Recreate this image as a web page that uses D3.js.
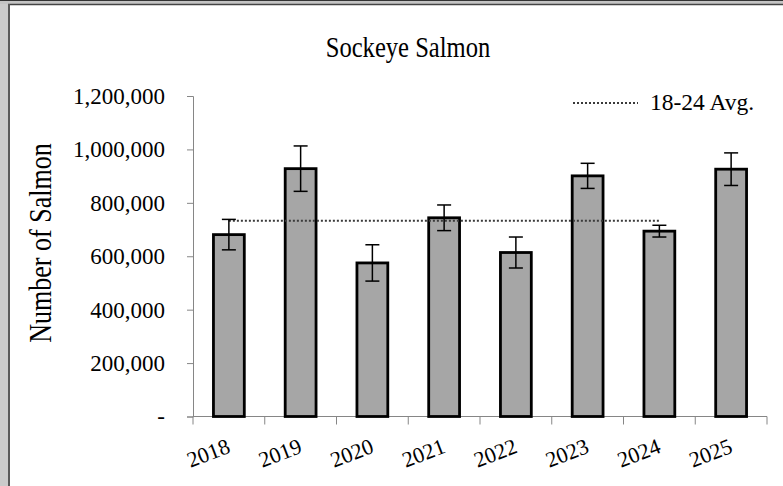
<!DOCTYPE html>
<html>
<head>
<meta charset="utf-8">
<script src="https://cdn.jsdelivr.net/npm/d3@7"></script>
<style>
  body { margin: 0; background: #fff; }
  svg { display: block; }
  text { font-family: "Liberation Serif", "Times New Roman", serif; }
</style>
</head>
<body>
<svg id="chart" width="783" height="486"></svg>
<script>
// values
const years = ['2018', '2019', '2020', '2021', '2022', '2023', '2024', '2025'];
const salmon = [681000, 928000, 575000, 744000, 614000, 901000, 694000, 926000];
const errors = [57000, 85000, 68000, 48000, 58000, 47000, 22000, 61000];
const avgValue = 733000;
const avgSpan = ['2018', '2024'];
const yTicks = [0, 200000, 400000, 600000, 800000, 1000000, 1200000];

const svg = d3.select('#chart');
const serif = '"Liberation Serif", "Times New Roman", serif';

// window frame on the left / top
svg.append('rect').attr('x', 0).attr('y', 0).attr('width', 9).attr('height', 486).attr('fill', '#cbcbcb');
svg.append('rect').attr('x', 0).attr('y', 0).attr('width', 783).attr('height', 4).attr('fill', '#c4c4c4');
svg.append('line').attr('x1', 0).attr('x2', 783).attr('y1', 0.5).attr('y2', 0.5).attr('stroke', '#333');
svg.append('line').attr('x1', 8).attr('x2', 783).attr('y1', 4.5).attr('y2', 4.5).attr('stroke', '#444').attr('stroke-width', 1.5);
svg.append('line').attr('x1', 9).attr('x2', 9).attr('y1', 4).attr('y2', 486).attr('stroke', '#5a5a5a').attr('stroke-width', 2);

const plotLeft = 193, plotRight = 767, plotTop = 96, plotBottom = 416.5;

const x = d3.scaleBand().domain(years).range([plotLeft, plotRight]).paddingInner(0.57).paddingOuter(0.285);
const y = d3.scaleLinear().domain([0, 1200000]).range([plotBottom, plotTop]);

// title (Times in the original is a bit taller and narrower)
svg.append('text').attr('transform', 'translate(408,57) scale(0.82,1)').attr('text-anchor', 'middle')
  .attr('font-family', serif).attr('font-size', 30).attr('fill', '#000').text('Sockeye Salmon');

// y axis
const yAxis = d3.axisLeft(y).tickValues(yTicks).tickSize(6).tickPadding(22)
  .tickFormat(d => d === 0 ? '-' : d3.format(',')(d));
const gy = svg.append('g').attr('transform', `translate(${plotLeft},0)`).call(yAxis)
  .attr('font-family', serif);
gy.select('.domain').attr('stroke', '#868686');
gy.selectAll('.tick line').attr('stroke', '#868686');
gy.selectAll('.tick text').attr('font-size', 23).attr('fill', '#000').attr('font-family', serif);

// y title
svg.append('text').attr('transform', 'translate(51,243) rotate(-90) scale(0.84,1)').attr('text-anchor', 'middle')
  .attr('font-family', serif).attr('font-size', 31).attr('fill', '#000').text('Number of Salmon');

// x axis line and boundary ticks
svg.append('line').attr('x1', plotLeft).attr('x2', plotRight).attr('y1', plotBottom).attr('y2', plotBottom).attr('stroke', '#868686');
const bounds = d3.range(years.length + 1).map(i => plotLeft + i * x.step());
svg.append('g').selectAll('line').data(bounds).join('line')
  .attr('x1', d => d).attr('x2', d => d).attr('y1', plotBottom).attr('y2', plotBottom + 8)
  .attr('stroke', '#868686');

// x labels
svg.append('g').selectAll('text').data(years).join('text')
  .attr('transform', d => `translate(${x(d) + x.bandwidth() / 2 - 3},${plotBottom + 21}) rotate(-21)`)
  .attr('text-anchor', 'end').attr('dy', '0.71em')
  .attr('font-family', serif).attr('font-size', 22).attr('fill', '#000').text(d => d);

// bars
svg.append('g').selectAll('rect').data(years).join('rect')
  .attr('x', d => x(d)).attr('width', x.bandwidth())
  .attr('y', (d, i) => y(salmon[i])).attr('height', (d, i) => y(0) - y(salmon[i]))
  .attr('fill', '#a6a6a6').attr('stroke', '#000').attr('stroke-width', 2.8);

// average line
svg.append('line')
  .attr('x1', x(avgSpan[0]) + x.bandwidth() / 2).attr('x2', x(avgSpan[1]) + x.bandwidth() / 2)
  .attr('y1', y(avgValue)).attr('y2', y(avgValue))
  .attr('stroke', '#3a3a3a').attr('stroke-width', 2).attr('stroke-dasharray', '2,2');

// error bars
const eb = svg.append('g').attr('stroke', '#000').attr('stroke-width', 1.5);
years.forEach((d, i) => {
  const cx = x(d) + x.bandwidth() / 2;
  const hi = y(salmon[i] + errors[i]), lo = y(salmon[i] - errors[i]);
  eb.append('line').attr('x1', cx).attr('x2', cx).attr('y1', hi).attr('y2', lo);
  eb.append('line').attr('x1', cx - 7).attr('x2', cx + 7).attr('y1', hi).attr('y2', hi);
  eb.append('line').attr('x1', cx - 7).attr('x2', cx + 7).attr('y1', lo).attr('y2', lo);
});

// legend
svg.append('line').attr('x1', 573).attr('x2', 638).attr('y1', 103).attr('y2', 103)
  .attr('stroke', '#3a3a3a').attr('stroke-width', 2).attr('stroke-dasharray', '2,2');
svg.append('text').attr('x', 650).attr('y', 110).attr('font-family', serif)
  .attr('font-size', 23.5).attr('fill', '#000').text('18-24 Avg.');
</script>
</body>
</html>
